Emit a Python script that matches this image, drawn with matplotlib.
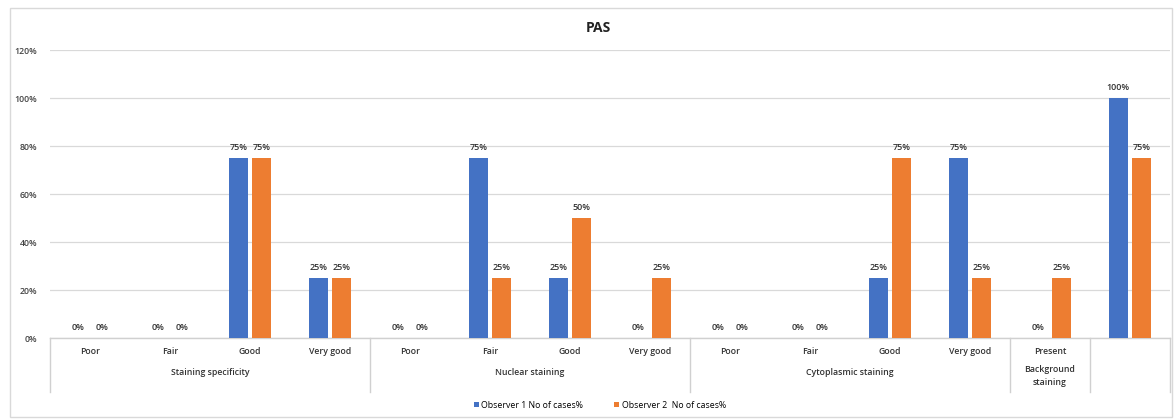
import matplotlib
matplotlib.use("Agg")
import matplotlib.pyplot as plt
from matplotlib.patches import Rectangle
from matplotlib.transforms import blended_transform_factory

plt.rcParams['font.family'] = ['Open Sans', 'DejaVu Sans']

categories = ["Poor", "Fair", "Good", "Very good",
              "Poor", "Fair", "Good", "Very good",
              "Poor", "Fair", "Good", "Very good",
              "Present", ""]
groups = [("Staining specificity", 0, 4),
          ("Nuclear staining", 4, 8),
          ("Cytoplasmic staining", 8, 12),
          ("Background\nstaining", 12, 13),
          ("", 13, 14)]
observer1 = [0, 0, 75, 25, 0, 75, 25, 0, 0, 0, 25, 75, 0, 100]
observer2 = [0, 0, 75, 25, 0, 25, 50, 25, 0, 0, 75, 25, 25, 75]
series_names = ["Observer 1 No of cases%", "Observer 2  No of cases%"]
yticks = [0, 20, 40, 60, 80, 100, 120]

W, H = 1176, 419
fig = plt.figure(figsize=(W / 100, H / 100), dpi=100)
ax = fig.add_axes([50 / W, (H - 338) / H, 1120 / W, 288 / H])

blue, orange = "#4472C4", "#ED7D31"
bw, off = 0.24, 0.145
xs = range(len(categories))
b1 = ax.bar([x - off for x in xs], observer1, width=bw, color=blue,
            label=series_names[0], zorder=3)
b2 = ax.bar([x + off for x in xs], observer2, width=bw, color=orange,
            label=series_names[1], zorder=3)

for bars, vals in ((b1, observer1), (b2, observer2)):
    for rect, v in zip(bars, vals):
        ax.annotate(f"{v}%", (rect.get_x() + rect.get_width() / 2, v),
                    xytext=(0, 4), textcoords="offset points",
                    ha="center", va="bottom", fontsize=6.5,
                    color="#333333", fontweight="semibold")

ax.set_xlim(-0.5, len(categories) - 0.5)
ax.set_ylim(0, 120)
ax.set_yticks(yticks)
ax.set_yticklabels([f"{t}%" for t in yticks], fontsize=6.3, color="#444444",
                   fontweight="semibold")
ax.tick_params(axis="y", length=0, pad=9)
ax.tick_params(axis="x", length=0, labelbottom=False)
ax.grid(axis="y", color="#d9d9d9", linewidth=0.9, zorder=0)
for s in ("top", "right", "left"):
    ax.spines[s].set_visible(False)
ax.spines["bottom"].set_color("#d0d0d0")
ax.spines["bottom"].set_linewidth(1.0)

# two-level category axis drawn below the zero line
trans = blended_transform_factory(ax.transData, ax.transAxes)
depth = -54 / 288
for i, name in enumerate(categories):
    ax.text(i, -13 / 288, name, transform=trans, ha="center", va="center",
            fontsize=6.3, color="#333333", fontweight="semibold")
for name, a, b in groups:
    ax.text((a + b - 1) / 2, -34 / 288 if "\n" not in name else -38 / 288,
            name, transform=trans, ha="center", va="center", fontsize=6.3,
            color="#333333", fontweight="semibold", linespacing=1.6)
bounds = sorted({g[1] for g in groups} | {g[2] for g in groups})
for bnd in bounds:
    ax.plot([bnd - 0.5, bnd - 0.5], [0, depth], transform=trans,
            color="#d0d0d0", linewidth=1.0, clip_on=False)

fig.text(598 / W, (H - 28) / H, "PAS", ha="center", va="center",
         fontsize=10, fontweight="bold", color="#222222")

fig.legend(handles=[b1, b2], loc="center", bbox_to_anchor=(0.51, 14 / H),
           ncol=2, frameon=False, fontsize=6.3, handlelength=0.6,
           handleheight=0.6, columnspacing=3.5, handletextpad=0.3)

fig.patches.append(Rectangle((10 / W, 2 / H), 1162 / W, 409 / H,
                             transform=fig.transFigure, fill=False,
                             edgecolor="#d9d9d9", linewidth=1.0))

fig.savefig("out.png", dpi=100)
